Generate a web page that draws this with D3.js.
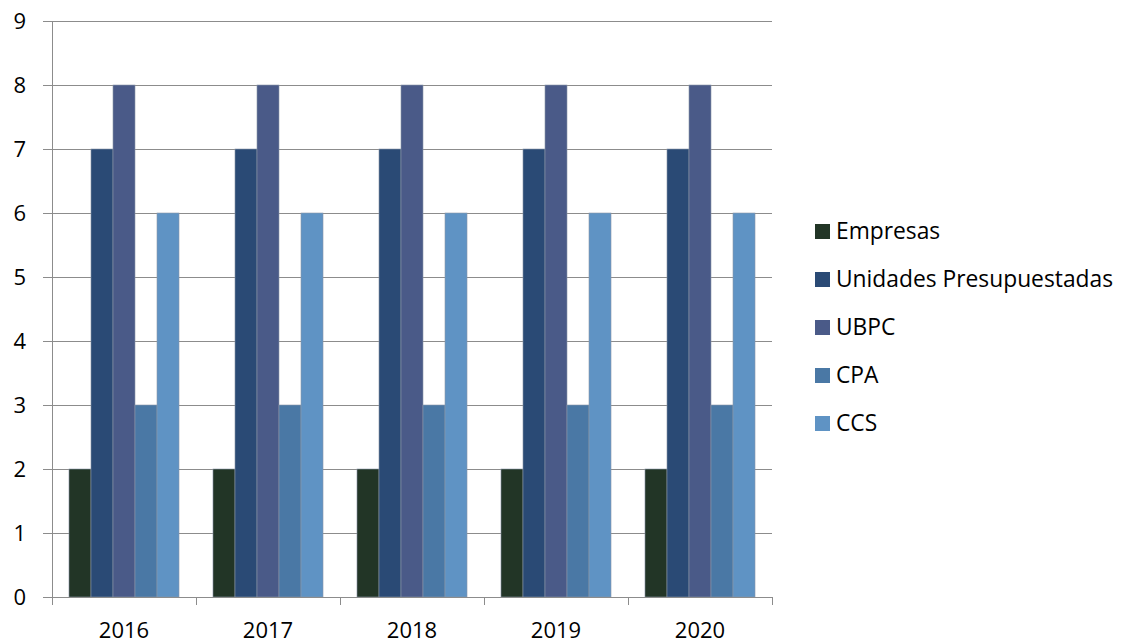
<!DOCTYPE html>
<html><head><meta charset="utf-8">
<script src="https://cdn.jsdelivr.net/npm/d3@7"></script>
<style>body{margin:0;background:#fff;} text{font-family:"Open Sans", sans-serif;}</style>
</head><body><svg id="c" width="1122" height="644"></svg>
<script>
const years = ["2016","2017","2018","2019","2020"];
const seriesNames = ["Empresas","Unidades Presupuestadas","UBPC","CPA","CCS"];
const empresas = [2,2,2,2,2];
const unidades = [7,7,7,7,7];
const ubpc = [8,8,8,8,8];
const cpa = [3,3,3,3,3];
const ccs = [6,6,6,6,6];
const colors = ["#223526","#2a4a75","#4a5a88","#4a78a5","#5f93c4"];
const yTicks = [0,1,2,3,4,5,6,7,8,9];

const allSeries = [empresas, unidades, ubpc, cpa, ccs];
const svg = d3.select("#c");
const L=52, R=772, T=21, B=597;
const x = d3.scaleBand().domain(years).range([L,R]).paddingInner(0.236).paddingOuter(0.118);
const x1 = d3.scaleBand().domain(seriesNames).range([0,x.bandwidth()]);
const y = d3.scaleLinear().domain([0,9]).range([B,T]);

svg.append("g").selectAll("line").data(yTicks).join("line")
  .attr("x1",43).attr("x2",R).attr("y1",d=>y(d)).attr("y2",d=>y(d))
  .attr("stroke","#8c8c8c").attr("stroke-width",1).attr("shape-rendering","crispEdges");

const groups = svg.append("g").selectAll("g").data(years).join("g")
  .attr("transform",d=>`translate(${x(d)},0)`);
groups.selectAll("rect").data((d,i)=>seriesNames.map((s,j)=>({s,v:allSeries[j][i],c:colors[j]}))).join("rect")
  .attr("x",d=>x1(d.s)).attr("width",x1.bandwidth())
  .attr("y",d=>y(d.v)).attr("height",d=>B-y(d.v))
  .attr("fill",d=>d.c).attr("stroke","#8a96a8").attr("stroke-width",0.6);

const ya = svg.append("g").attr("transform",`translate(${L},0)`)
  .call(d3.axisLeft(y).tickValues(yTicks).tickSize(0).tickPadding(26));
ya.select(".domain").attr("stroke","#8c8c8c");
ya.selectAll("text").attr("font-size",22).attr("fill","#000").attr("font-family","Open Sans")
  .attr("dy","0.36em");

const xa = svg.append("g").attr("transform",`translate(0,${B})`);
xa.append("line").attr("x1",L).attr("x2",R).attr("y1",0).attr("y2",0).attr("stroke","#8c8c8c").attr("shape-rendering","crispEdges");
const edges = d3.range(years.length+1).map(i=>L+i*(R-L)/years.length);
xa.selectAll("line.t").data(edges).join("line").attr("class","t")
  .attr("x1",d=>d).attr("x2",d=>d).attr("y1",0).attr("y2",8).attr("stroke","#8c8c8c").attr("shape-rendering","crispEdges");
xa.selectAll("text").data(years).join("text")
  .attr("x",d=>x(d)+x.bandwidth()/2).attr("y",41).attr("text-anchor","middle")
  .attr("font-size",22).attr("fill","#000").text(d=>d);

const lg = svg.append("g").selectAll("g").data(seriesNames).join("g")
  .attr("transform",(d,i)=>`translate(815,${231+i*48})`);
lg.append("rect").attr("x",0).attr("y",-7).attr("width",15).attr("height",15).attr("fill",(d,i)=>colors[i]);
lg.append("text").attr("x",21).attr("y",7.5).attr("font-size",22.8).attr("fill","#000").text(d=>d);
</script></body></html>
